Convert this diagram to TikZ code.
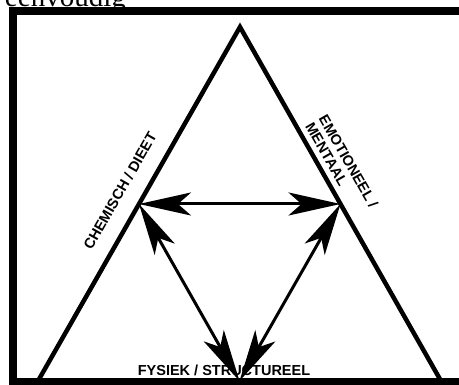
\documentclass[tikz,border=0pt]{standalone}
\usepackage{fontspec}
\setmainfont{Liberation Serif}
\newfontfamily\labelfont{Liberation Sans}
\usepackage{tikz}
\usetikzlibrary{arrows.meta,calc}

\begin{document}
\begin{tikzpicture}[
    x=1pt, y=-1pt,
    side/.style={line width=4.5pt, line cap=round, line join=miter},
    link/.style={line width=3pt, {Stealth[length=52pt, width=23pt, inset=13pt]}-{Stealth[length=52pt, width=23pt, inset=13pt]}},
    lbl/.style={font=\labelfont\bfseries\fontsize{14.5}{15.5}\selectfont, inner sep=0pt},
]
\useasboundingbox (0,0) rectangle (459,385);

% Title (cut off at the top)
\node[anchor=base east, font=\fontsize{29}{30}\selectfont, inner sep=0pt] (title) at (126,7) {eenvoudig};

% Frame
\draw[line width=8pt, line join=miter] (13,388) -- (13,11) -- (462,11);
\draw[line width=7pt] (9,382) -- (462,382);

% Triangle
\coordinate (apex) at (240,27);
\coordinate (bl) at (38,381);
\coordinate (br) at (441,381);
\draw[side] (bl) -- (apex) -- (br);

% Corners of the inner triangle
\coordinate (mL) at ($(bl)!0.5!(apex)$);
\coordinate (mR) at ($(br)!0.5!(apex)$);
\coordinate (mB) at ($(bl)!0.5!(br)$);

% Labels
\node[lbl, rotate=60.3] (chem) at (120,191) {CHEMISCH / DIEET};
\node[lbl, rotate=-60.3, align=left] (emo) at (342,165) {EMOTIONEEL /\\MENTAAL};
\node[lbl] (fys) at (224,370.5) {FYSIEK / STRUCTUREEL};

% Arrows
\draw[link] (mL) -- (mR);
\draw[link] (mL) -- (mB);
\draw[link] (mR) -- (mB);

\end{tikzpicture}
\end{document}
